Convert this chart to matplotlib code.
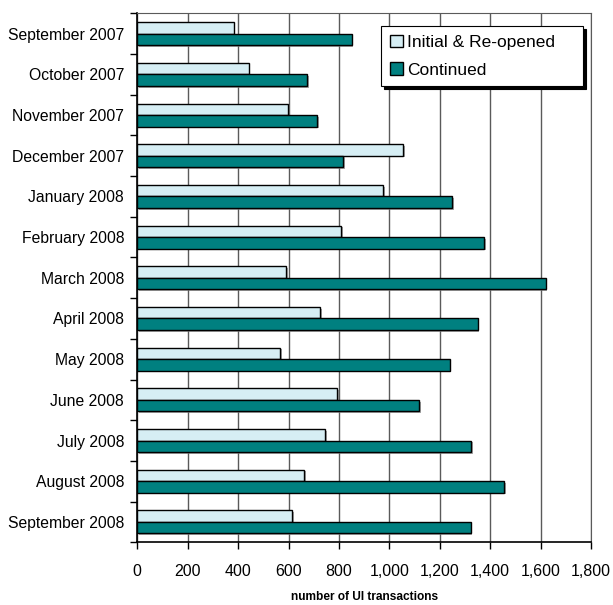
import matplotlib
matplotlib.use('Agg')
import matplotlib.pyplot as plt
import matplotlib.patheffects as pe
from matplotlib.ticker import FuncFormatter
import numpy as np

plt.rcParams['font.family'] = ['Liberation Sans Narrow', 'Liberation Sans', 'DejaVu Sans']

months = ['September 2007', 'October 2007', 'November 2007', 'December 2007',
          'January 2008', 'February 2008', 'March 2008', 'April 2008',
          'May 2008', 'June 2008', 'July 2008', 'August 2008', 'September 2008']
initial = [382, 442, 598, 1056, 976, 810, 591, 725, 567, 794, 746, 663, 615]
continued = [851, 675, 714, 817, 1250, 1377, 1621, 1351, 1240, 1119, 1325, 1456, 1323]

LIGHT = '#D6EEF4'
TEAL = '#008080'
GRID = '#5a5a5a'

fig = plt.figure(figsize=(6.13, 6.05), dpi=100)
ax = fig.add_axes([0.224, 0.1037, 0.740, 0.8743])

y = np.arange(len(months))
h = 0.283
shadow = [pe.SimplePatchShadow(offset=(1.2, -1.2), shadow_rgbFace='gray', alpha=0.7), pe.Normal()]

b1 = ax.barh(y - h / 2, initial, height=h, color=LIGHT, edgecolor='black',
             linewidth=1, label='Initial & Re-opened', zorder=3)
b2 = ax.barh(y + h / 2, continued, height=h, color=TEAL, edgecolor='black',
             linewidth=1, label='Continued', zorder=3)
for bar in list(b1) + list(b2):
    bar.set_path_effects(shadow)

ax.set_xlim(0, 1800)
ax.set_ylim(len(months) - 0.5, -0.5)
ax.set_xticks(np.arange(0, 1801, 200))
ax.xaxis.set_major_formatter(FuncFormatter(lambda v, p: f'{int(v):,}'))
ax.grid(axis='x', color=GRID, linewidth=1, zorder=0)

ax.set_yticks(y)
ax.set_yticklabels(months)
ax.set_yticks(np.arange(-0.5, len(months), 1), minor=True)
ax.tick_params(axis='y', which='major', length=0, pad=9.5, labelsize=11.3)
ax.tick_params(axis='y', which='minor', length=5, width=1, color='black')
ax.tick_params(axis='x', length=5, width=1, color='black', labelsize=11.5, pad=11)

for side in ['top', 'right']:
    ax.spines[side].set_color(GRID)
for side in ['left', 'bottom']:
    ax.spines[side].set_color('black')
    ax.spines[side].set_linewidth(1.2)

ax.set_xlabel('number of UI transactions', fontsize=8.6, fontweight='bold',
              family=['Liberation Sans', 'DejaVu Sans'], labelpad=8)

leg = ax.legend(loc='upper left', bbox_to_anchor=(0.537, 0.5, 0.445, 0.476),
                mode='expand', borderaxespad=0,
                fancybox=False, edgecolor='black', framealpha=1, fontsize=12.5,
                handlelength=0.75, handleheight=0.75, handletextpad=0.25,
                labelspacing=0.7, borderpad=0.5,
                shadow={'color': 'black', 'alpha': 1, 'ox': 2, 'oy': -2})
leg.get_frame().set_linewidth(0.8)
for hnd in leg.legend_handles:
    hnd.set_path_effects([])

fig.savefig('out.png', dpi=100)
